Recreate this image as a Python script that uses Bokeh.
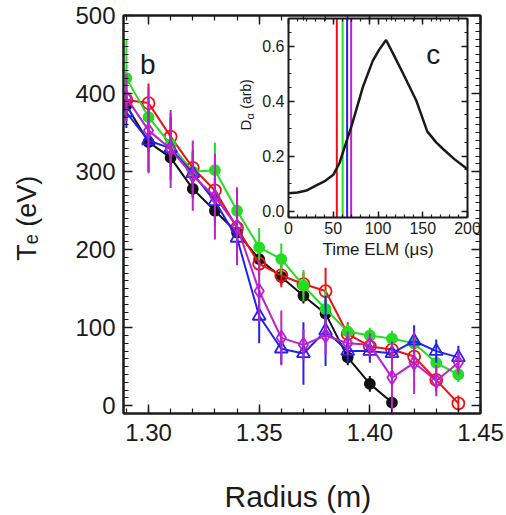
import numpy as np
from bokeh.plotting import figure
from bokeh.models import (Range1d, LinearAxis, FixedTicker, PrintfTickFormatter, Label,
                          ColumnDataSource, CustomLabelingPolicy)
from bokeh.embed import file_html
from bokeh.resources import INLINE

# ---------------- data ----------------
radius = [1.29, 1.30, 1.31, 1.32, 1.33, 1.34, 1.35, 1.36, 1.37, 1.38, 1.39, 1.40, 1.41, 1.42, 1.43, 1.44]
radius_black = [1.29, 1.30, 1.31, 1.32, 1.33, 1.34, 1.35, 1.36, 1.37, 1.38, 1.39, 1.40, 1.41]

te_black = [385, 338, 318, 278, 250, 222, 188, 165, 141, 118, 62, 28, 4]
err_black = [15, 12, 12, 12, 12, 12, 10, 10, 10, 10, 10, 10, 8]

te_red = [392, 388, 345, 305, 276, 228, 182, 167, 156, 147, 92, 76, 72, 63, 33, 3]
err_red = [25, 25, 30, 20, 20, 20, 15, 15, 15, 30, 15, 15, 15, 20, 15, 10]

te_green = [420, 370, 335, 300, 302, 250, 203, 188, 154, 124, 95, 90, 86, 80, 55, 40]
err_green = [50, 25, 25, 25, 35, 25, 25, 20, 20, 25, 10, 10, 10, 10, 10, 10]

te_blue = [376, 340, 330, 298, 262, 215, 115, 73, 67, 96, 70, 70, 67, 83, 70, 62]
err_blue = [20, 40, 40, 30, 30, 30, 35, 20, 40, 45, 15, 15, 15, 20, 15, 15]

te_mag = [395, 353, 329, 295, 268, 230, 147, 87, 78, 90, 80, 78, 36, 55, 32, 55]
err_mag = [30, 55, 50, 45, 55, 50, 40, 35, 20, 25, 15, 15, 45, 40, 20, 15]

t_elm = [0, 10, 20, 30, 40, 50, 57, 64, 71, 83, 94, 101, 109, 118, 128, 143, 155, 165, 173, 185, 200]
d_alpha = [0.065, 0.068, 0.075, 0.092, 0.108, 0.132, 0.175, 0.245, 0.315, 0.45, 0.545, 0.585,
           0.622, 0.565, 0.50, 0.40, 0.29, 0.25, 0.225, 0.19, 0.152]

elm_times = [54, 60.5, 65.5, 70]
elm_colors = ["#ee1111", "#22dd22", "#2222ee", "#bb22cc"]

x_ticks = [1.30, 1.35, 1.40, 1.45]
y_ticks = [0, 100, 200, 300, 400, 500]
ix_ticks = [0, 50, 100, 150, 200]
iy_ticks = [0.0, 0.2, 0.4, 0.6]

# ---------------- layout ----------------
FONT = "Liberation Sans"
INK = "#1a1a1a"
W, H = 506, 515
BL, BR, BT, BB = 123, 26, 15, 102
FW, FH = W - BL - BR, H - BT - BB

X_LIM = (1.2887, 1.45)
Y_LIM = (-10, 500.3)
INSET_X = (0, 200)
INSET_Y = (-0.023, 0.70)
# inset box in frame pixels (left, right, top, bottom)
IL, IR, IT, IB = 165, 344, 3, 202

sx = (INSET_X[1] - INSET_X[0]) / (IR - IL)
sy = (INSET_Y[1] - INSET_Y[0]) / (IB - IT)
ix_range = Range1d(INSET_X[0] - IL * sx, INSET_X[1] + (FW - IR) * sx)
iy_range = Range1d(INSET_Y[0] - (FH - IB) * sy, INSET_Y[1] + IT * sy)

p = figure(width=W, height=H, output_backend="svg", toolbar_location=None,
           x_range=Range1d(*X_LIM), y_range=Range1d(*Y_LIM),
           min_border_left=BL, min_border_right=BR, min_border_top=BT, min_border_bottom=BB)
p.extra_x_ranges = {"ix": ix_range}
p.extra_y_ranges = {"iy": iy_range}
p.xgrid.visible = False
p.ygrid.visible = False
p.outline_line_color = INK
p.outline_line_width = 2
p.background_fill_color = "white"
p.border_fill_color = "white"

NO_LABELS = CustomLabelingPolicy(code="return new Set()")


def style_axis(ax, font_px, tick_in, minor_in, lw=2.0):
    ax.axis_line_width = lw
    ax.axis_line_color = INK
    ax.major_tick_in = tick_in
    ax.major_tick_out = 0
    ax.minor_tick_in = minor_in
    ax.minor_tick_out = 0
    ax.major_tick_line_color = INK
    ax.minor_tick_line_color = INK
    ax.major_tick_line_width = 1.5
    ax.minor_tick_line_width = 1.2
    ax.major_label_text_font = FONT
    ax.major_label_text_color = INK
    ax.axis_label_text_font = FONT
    ax.axis_label_text_font_style = "normal"
    ax.axis_label_text_color = INK
    if font_px:
        ax.major_label_text_font_size = f"{font_px}px"
    else:
        ax.major_label_text_font_size = "1px"
        ax.major_label_standoff = 0
        ax.major_label_policy = NO_LABELS


x_minor = [round(1.29 + 0.01 * i, 2) for i in range(17)]
y_minor = list(range(-10, 501, 10))

xa = p.below[0]
style_axis(xa, 24, 9, 5)
xa.ticker = FixedTicker(ticks=x_ticks, minor_ticks=x_minor)
xa.formatter = PrintfTickFormatter(format="%.2f")
xa.major_label_standoff = 10
xa.axis_label = "Radius  (m)"
xa.axis_label_text_font_size = "30px"
xa.axis_label_standoff = 36

ya = p.left[0]
style_axis(ya, 24, 9, 5)
ya.ticker = FixedTicker(ticks=y_ticks, minor_ticks=y_minor)
ya.major_label_standoff = 8
ya.axis_label = "T\u2091  (eV)"
ya.axis_label_text_font_size = "27px"
ya.axis_label_standoff = 30

top = LinearAxis(ticker=FixedTicker(ticks=x_ticks, minor_ticks=x_minor))
style_axis(top, 0, 9, 5)
p.add_layout(top, "above")
right = LinearAxis(ticker=FixedTicker(ticks=y_ticks, minor_ticks=y_minor))
style_axis(right, 0, 9, 5)
p.add_layout(right, "right")

# ---------------- main series ----------------
series = [
    (radius_black, te_black, err_black, "#111111", "circle", 10, "#111111"),
    (radius, te_red, err_red, "#ee1111", "circle", 12, None),
    (radius, te_green, err_green, "#22dd22", "circle", 10, "#22dd22"),
    (radius, te_blue, err_blue, "#2222ee", "triangle", 13, None),
    (radius, te_mag, err_mag, "#bb22cc", "diamond", 14, None),
]
for xs, ys, es, col, mk, sz, fill in series:
    ys_a = np.array(ys, dtype=float)
    es_a = np.array(es, dtype=float)
    src = ColumnDataSource(dict(x=xs, y=ys_a, lo=ys_a - es_a, hi=ys_a + es_a))
    p.segment(x0="x", y0="lo", x1="x", y1="hi", source=src, line_color=col, line_width=2)
    p.line("x", "y", source=src, line_color=col, line_width=2)
    p.scatter("x", "y", source=src, marker=mk, size=sz, line_color=col, line_width=1.8,
              fill_color=fill)

p.add_layout(Label(x=1.2962, y=438, text="b", text_font=FONT, text_font_size="28px",
                   text_color=INK, text_baseline="alphabetic"))

# ---------------- inset ----------------
ix_minor = list(range(0, 201, 10))
iy_minor = [round(0.05 * i, 2) for i in range(15)]

ib = LinearAxis(x_range_name="ix", y_range_name="iy", fixed_location=INSET_Y[0], bounds=INSET_X,
                ticker=FixedTicker(ticks=ix_ticks, minor_ticks=ix_minor))
style_axis(ib, 16, 6, 3)
ib.major_label_standoff = 4
ib.axis_label = "Time ELM (\u03bcs)"
ib.axis_label_text_font_size = "17px"
ib.axis_label_standoff = 3
p.add_layout(ib, "below")

it = LinearAxis(x_range_name="ix", y_range_name="iy", fixed_location=INSET_Y[1], bounds=INSET_X,
                ticker=FixedTicker(ticks=ix_ticks, minor_ticks=ix_minor))
style_axis(it, 0, 6, 3)
p.add_layout(it, "above")

il = LinearAxis(x_range_name="ix", y_range_name="iy", fixed_location=INSET_X[0], bounds=INSET_Y,
                ticker=FixedTicker(ticks=iy_ticks, minor_ticks=iy_minor),
                formatter=PrintfTickFormatter(format="%.1f"))
style_axis(il, 16, 6, 3)
il.major_label_standoff = 4
p.add_layout(il, "left")

ir = LinearAxis(x_range_name="ix", y_range_name="iy", fixed_location=INSET_X[1], bounds=INSET_Y,
                ticker=FixedTicker(ticks=iy_ticks, minor_ticks=iy_minor))
style_axis(ir, 0, 6, 3)
p.add_layout(ir, "right")

p.segment(x0=elm_times, y0=[INSET_Y[0]] * len(elm_times), x1=elm_times, y1=[INSET_Y[1]] * len(elm_times),
          line_color=elm_colors, line_width=2, x_range_name="ix", y_range_name="iy")
p.line(t_elm, d_alpha, line_color=INK, line_width=2.5, x_range_name="ix", y_range_name="iy")

p.add_layout(Label(x=154, y=0.57, x_range_name="ix", y_range_name="iy", text="c", text_font=FONT,
                   text_font_size="28px", text_color=INK, text_baseline="alphabetic"))

# rotated D_alpha (arb) label
p.add_layout(Label(x=-48, y=0.293, x_range_name="ix", y_range_name="iy", text="D", angle=np.pi / 2,
                   text_font=FONT, text_font_size="15px", text_color=INK, text_baseline="alphabetic"))
p.add_layout(Label(x=-43.5, y=0.333, x_range_name="ix", y_range_name="iy", text="\u03b1", angle=np.pi / 2,
                   text_font=FONT, text_font_size="11px", text_color=INK, text_baseline="alphabetic"))
p.add_layout(Label(x=-48, y=0.372, x_range_name="ix", y_range_name="iy", text="(arb)", angle=np.pi / 2,
                   text_font=FONT, text_font_size="14px", text_color=INK, text_baseline="alphabetic"))

open("out.html", "w").write(file_html(p, INLINE))
